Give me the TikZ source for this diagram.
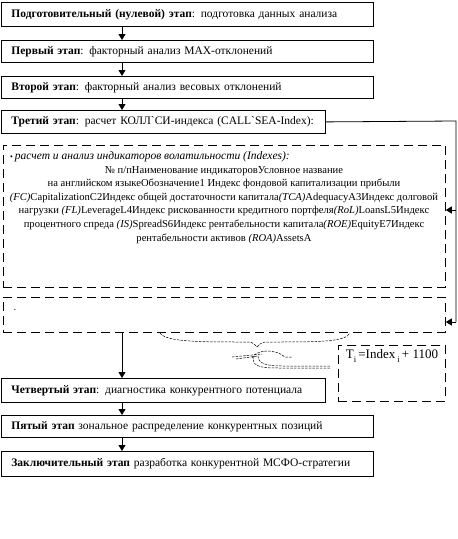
\documentclass[tikz,border=0pt]{standalone}
\usepackage{fontspec}
\setmainfont{Liberation Serif}
\usetikzlibrary{arrows.meta}
\begin{document}
\begin{tikzpicture}[x=1pt,y=-1pt,
  stage/.style={draw,line width=0.8pt,anchor=north west,inner xsep=10pt,inner ysep=0pt,align=left,font=\fontsize{11.5}{13}\selectfont},
  dbox/.style={draw,line width=0.8pt,dash pattern=on 9pt off 5pt,anchor=north west,inner sep=0pt},
  arr/.style={line width=0.8pt,-{Triangle[length=6pt,width=7pt]}},
  dsm/.style={line width=0.5pt,dash pattern=on 2.5pt off 1.2pt},
  txt/.style={inner sep=0pt}]
\useasboundingbox (0,0) rectangle (458,539);
\node[stage,minimum width=372pt,minimum height=24pt,text width=352pt] (b0) at (1,2)
  {\textbf{Подготовительный (нулевой) этап}: подготовка данных анализа};
\node[stage,minimum width=372pt,minimum height=22pt,text width=352pt] (b1) at (1,40)
  {\textbf{Первый этап}: факторный анализ MAX-отклонений};
\node[stage,minimum width=372pt,minimum height=22pt,text width=352pt] (b2) at (1,76)
  {\textbf{Второй этап}: факторный анализ весовых отклонений};
\node[stage,minimum width=324pt,minimum height=23pt,text width=304pt] (b3) at (1,110)
  {\textbf{Третий этап}: расчет КОЛЛ\textasciigrave СИ-индекса (CALL\textasciigrave SEA-Index):};
\node[dbox,minimum width=442pt,minimum height=142pt] (d1) at (3,145) {};
\node[txt,anchor=west,font=\fontsize{11.5}{13}\selectfont] (bl1) at (10,157)
  {{\footnotesize •}\,\textit{расчет и анализ индикаторов волатильности (Indexes):}};
\node[txt,anchor=north,align=center,font=\fontsize{10.6}{13.6}\selectfont] (tab) at (224,166)
  {№ п/пНаименование индикаторовУсловное название\\
   на английском языкеОбозначение1 Индекс фондовой капитализации прибыли\\
   \textit{(FC)}CapitalizationC2Индекс общей достаточности капитала\textit{(TCA)}AdequacyA3Индекс долговой\\
   нагрузки \textit{(FL)}LeverageL4Индекс рискованности кредитного портфеля\textit{(RoL)}LoansL5Индекс\\
   процентного спреда \textit{(IS)}SpreadS6Индекс рентабельности капитала\textit{(ROE)}EquityE7Индекс\\
   рентабельности активов \textit{(ROA)}AssetsA};
\node[dbox,minimum width=442pt,minimum height=35pt] (d2) at (3,297) {};
\node[txt,font=\tiny] (bl2) at (15,310) {•};
\node[stage,minimum width=324pt,minimum height=24pt,text width=304pt] (b4) at (1,378)
  {\textbf{Четвертый этап}: диагностика конкурентного потенциала};
\node[stage,minimum width=372pt,minimum height=22pt,text width=352pt] (b5) at (1,415)
  {\textbf{Пятый этап} зональное распределение конкурентных позиций};
\node[stage,minimum width=372pt,minimum height=25pt,text width=352pt] (b6) at (1,451)
  {\textbf{Заключительный этап} разработка конкурентной МСФО-стратегии};
\node[dbox,minimum width=107pt,minimum height=56pt] (tb) at (338,345) {};
\node[txt,font=\fontsize{13}{15}\selectfont] (tf) at (392,356)
  {T\raisebox{-3.5pt}{\fontsize{8.5}{10}\selectfont i}\,=Index\,\raisebox{-3.5pt}{\fontsize{8.5}{10}\selectfont i}\,+ 1100};
% vertical arrows
\draw[arr] (b0.south -| 122,0) -- (b1.north -| 122,0);
\draw[arr] (b1.south -| 122,0) -- (b2.north -| 122,0);
\draw[arr] (b2.south -| 122,0) -- (b3.north -| 122,0);
\draw[arr] (d2.south -| 122,0) -- (b4.north -| 122,0);
\draw[arr] (b4.south -| 122,0) -- (b5.north -| 122,0);
\draw[arr] (b5.south -| 122,0) -- (b6.north -| 122,0);
% right feedback
\coordinate (r0) at (456,121);
\coordinate (r1) at (456,210);
\coordinate (r2) at (456,322);
\draw[line width=0.8pt] (b3.east) -- (r0) -- (r2);
\draw[arr] (r1) -- (r1 -| d1.east);
\draw[arr] (r2) -- (r2 -| d2.east);
% brace and callout
\draw[dsm] (160,333) .. controls (166,342) and (200,342) .. (245,342) .. controls (252,342) .. (257,347);
\draw[dsm] (257,347) .. controls (262,342) .. (270,342) .. controls (320,342) and (345,342) .. (350,333);
\draw[dsm] (232,357) -- (262,354);
\draw[dsm] (236,359) -- (258,356);
\draw[dsm] (252,358) .. controls (255,350) and (275,348) .. (285,357) -- (292,357);
\draw[dsm] (254,356) .. controls (250,368) and (265,368) .. (280,368) -- (330,368);
\draw[dsm] (258,356) .. controls (258,364) and (268,366) .. (282,366) -- (330,366);
\end{tikzpicture}
\end{document}
